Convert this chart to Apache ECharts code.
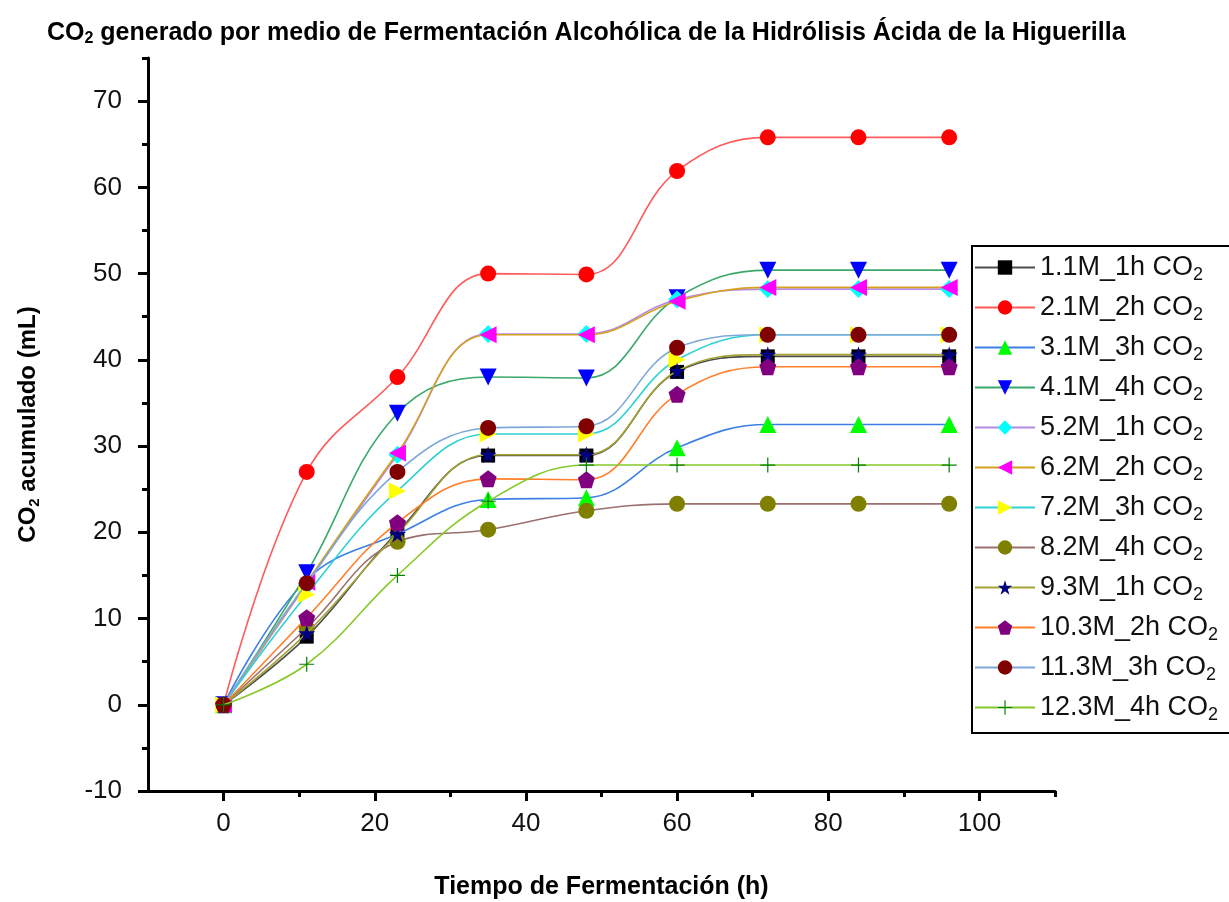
<!DOCTYPE html>
<html>
<head>
<meta charset="utf-8">
<script src="https://cdn.jsdelivr.net/npm/echarts@6/dist/echarts.min.js"></script>
<style>
html,body{margin:0;padding:0;background:#fff;}
#chart{width:1229px;height:902px;}
</style>
</head>
<body>
<div id="chart"></div>
<script>
// ---- Data ----
const hours = [0, 11, 23, 35, 48, 60, 72, 84, 96];
const seriesNames = ['1.1M_1h CO2','2.1M_2h CO2','3.1M_3h CO2','4.1M_4h CO2','5.2M_1h CO2','6.2M_2h CO2','7.2M_3h CO2','8.2M_4h CO2','9.3M_1h CO2','10.3M_2h CO2','11.3M_3h CO2','12.3M_4h CO2'];
const s1  = [0, 7.9, 20.0, 28.9, 28.9, 38.6, 40.4, 40.4, 40.4];
const s2  = [0, 27.0, 38.0, 50.0, 49.9, 61.9, 65.8, 65.8, 65.8];
const s3  = [0, 14.5, 19.8, 23.8, 24.0, 29.8, 32.5, 32.5, 32.5];
const s4  = [0, 15.3, 33.8, 38.0, 37.9, 47.2, 50.4, 50.4, 50.4];
const s5  = [0, 14.0, 29.0, 43.0, 43.0, 47.0, 48.2, 48.2, 48.2];
const s6  = [0, 14.2, 29.2, 42.9, 42.9, 46.8, 48.4, 48.4, 48.4];
const s7  = [0, 12.8, 24.8, 31.4, 31.4, 40.0, 42.9, 42.9, 42.9];
const s8  = [0, 8.9, 18.9, 20.3, 22.5, 23.3, 23.3, 23.3, 23.3];
const s9  = [0, 8.3, 19.8, 29.0, 29.0, 38.7, 40.6, 40.6, 40.6];
const s10 = [0, 10.1, 21.1, 26.2, 26.1, 36.0, 39.2, 39.2, 39.2];
const s11 = [0, 14.1, 27.0, 32.1, 32.3, 41.4, 42.9, 42.9, 42.9];
const s12 = [0, 4.7, 15.0, 23.6, 27.8, 27.8, 27.8, 27.8, 27.8];
const allValues = [s1, s2, s3, s4, s5, s6, s7, s8, s9, s10, s11, s12];

const xMajorTicks = [0, 20, 40, 60, 80, 100];
const xMinorTicks = [10, 30, 50, 70, 90, 110];
const yMajorTicks = [-10, 0, 10, 20, 30, 40, 50, 60, 70];
const yMinorTicks = [-5, 5, 15, 25, 35, 45, 55, 65, 75];

// ---- Styles ----
const lineColors = ['#4d4d4d','#ff5b5b','#3c80e6','#3aa86b','#b58ae6','#d6a21e','#2fd2d2','#9b7070','#a3a334','#ff7f2a','#7da8d8','#86c92a'];
const markerColors = ['#000000','#ff0000','#00ff00','#0000ff','#00ffff','#ff00ff','#ffff00','#808000','#000080','#800080','#800000','#008000'];
const STAR = 'path://M50,0 L61.2,34.5 L97.6,34.5 L68.2,55.9 L79.4,90.5 L50,69.1 L20.6,90.5 L31.8,55.9 L2.4,34.5 L38.8,34.5 Z';
const PENTA = 'path://M50,0 L97.6,34.5 L79.4,90.5 L20.6,90.5 L2.4,34.5 Z';
const PLUS = 'path://M46,0 L54,0 L54,46 L100,46 L100,54 L54,54 L54,100 L46,100 L46,54 L0,54 L0,46 L46,46 Z';
const symbols = ['rect','circle','triangle','triangle','diamond','triangle','triangle','circle',STAR,PENTA,'circle',PLUS];
const rotations = [0,0,0,180,0,90,-90,0,0,0,0,0];
const sizes = [14,16,17,17,18,17,17,16,17,17,16,15];

const FONT = 'Liberation Sans, Arial, sans-serif';

const chart = echarts.init(document.getElementById('chart'), null, {renderer:'canvas'});

const series = allValues.map((vals, i) => ({
  name: seriesNames[i],
  type: 'line',
  xAxisIndex: 0,
  yAxisIndex: 0,
  data: hours.map((h, j) => [h, vals[j]]),
  smooth: 0.4,
  symbol: symbols[i],
  symbolRotate: rotations[i],
  symbolSize: sizes[i],
  showAllSymbol: true,
  lineStyle: {color: lineColors[i], width: 1.6},
  itemStyle: {color: markerColors[i], borderWidth: 0},
  emphasis: {disabled: true},
  animation: false,
  z: 3 + i
}));

const subRich = {
  n: {fontSize: 27, fontFamily: FONT, color: '#111'},
  sub: {fontSize: 18, fontFamily: FONT, color: '#111', padding: [15, 0, 0, 0]}
};

const option = {
  backgroundColor: '#ffffff',
  animation: false,
  title: {
    text: '{b|CO}{s|2}{b| generado por medio de Fermentación Alcohólica de la Hidrólisis Ácida de la Higuerilla}',
    left: 42,
    top: 14,
    textStyle: {
      rich: {
        b: {fontSize: 25, fontWeight: 'bold', fontFamily: FONT, color: '#000'},
        s: {fontSize: 16, fontWeight: 'bold', fontFamily: FONT, color: '#000', padding: [12, 0, 0, 0]}
      }
    }
  },
  legend: {
    orient: 'vertical',
    left: 972,
    top: 246,
    padding: [8, 30, 9, 2],
    itemWidth: 60,
    itemHeight: 18,
    itemGap: 10,
    borderColor: '#000',
    borderWidth: 2,
    data: seriesNames,
    formatter: name => '{n|' + name.replace(/CO2$/, 'CO') + '}{sub|2}',
    textStyle: {rich: subRich, fontSize: 27},
    selectedMode: false
  },
  grid: [{left: 148, right: 174, top: 58, bottom: 111, containLabel: false, outerBoundsMode: 'none'}],
  xAxis: [{
    type: 'value', gridIndex: 0, min: -10, max: 110,
    name: 'Tiempo de Fermentación (h)', nameLocation: 'middle', nameGap: 84,
    nameTextStyle: {fontSize: 25, fontWeight: 'bold', fontFamily: FONT, color: '#000'},
    axisLine: {show: true, onZero: false, lineStyle: {color: '#000', width: 3}},
    axisTick: {show: true, length: 10, customValues: xMajorTicks, lineStyle: {color: '#000', width: 3}},
    axisLabel: {show: true, customValues: xMajorTicks, margin: 20, fontSize: 26, fontFamily: FONT, color: '#111'},
    splitLine: {show: false}
  }, {
    type: 'value', gridIndex: 0, min: -10, max: 110, position: 'bottom',
    axisLine: {show: false, onZero: false},
    axisTick: {show: true, length: 6, customValues: xMinorTicks, lineStyle: {color: '#000', width: 3}},
    axisLabel: {show: false},
    splitLine: {show: false}
  }],
  yAxis: [{
    type: 'value', gridIndex: 0, min: -10, max: 75,
    name: '{b|CO}{s|2}{b| acumulado (mL)}', nameLocation: 'middle', nameGap: 106, nameRotate: 90,
    nameTextStyle: {
      rich: {
        b: {fontSize: 24, fontWeight: 'bold', fontFamily: FONT, color: '#000'},
        s: {fontSize: 15, fontWeight: 'bold', fontFamily: FONT, color: '#000', padding: [12, 0, 0, 0]}
      }
    },
    axisLine: {show: true, onZero: false, lineStyle: {color: '#000', width: 3}},
    axisTick: {show: true, length: 10, customValues: yMajorTicks, lineStyle: {color: '#000', width: 3}},
    axisLabel: {show: true, customValues: yMajorTicks, margin: 26, fontSize: 26, fontFamily: FONT, color: '#111'},
    splitLine: {show: false}
  }, {
    type: 'value', gridIndex: 0, min: -10, max: 75, position: 'left',
    axisLine: {show: false, onZero: false},
    axisTick: {show: true, length: 6, customValues: yMinorTicks, lineStyle: {color: '#000', width: 3}},
    axisLabel: {show: false},
    splitLine: {show: false}
  }],
  series: series
};

chart.setOption(option);
</script>
</body>
</html>
